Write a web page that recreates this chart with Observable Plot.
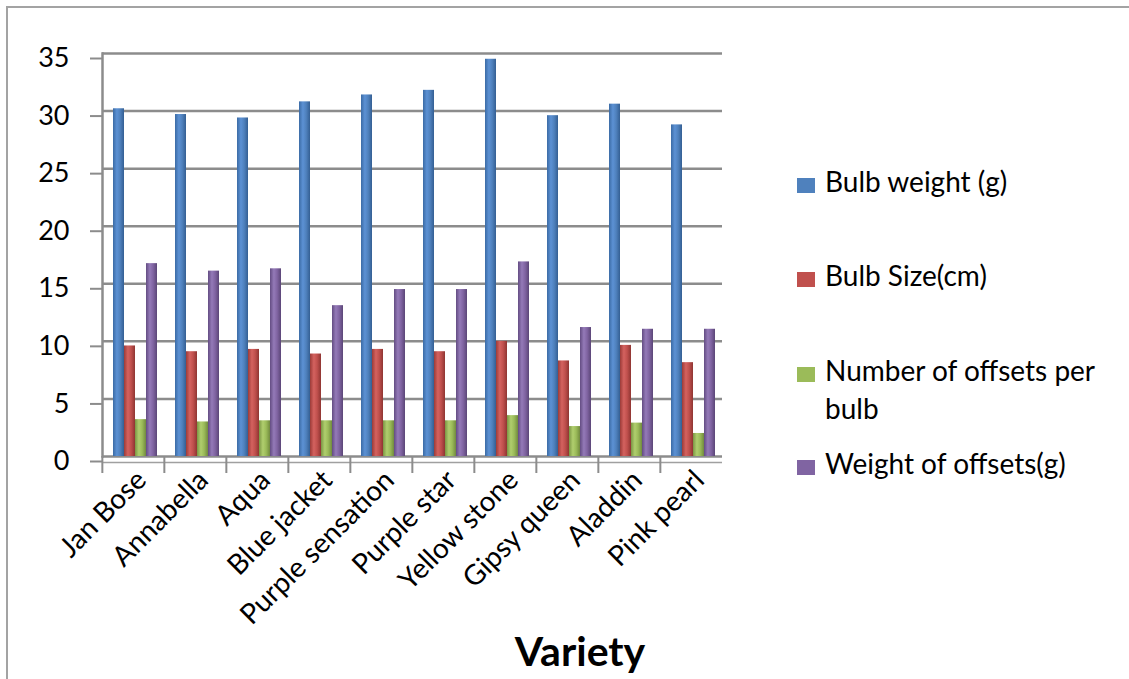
<!DOCTYPE html>
<html>
<head>
<meta charset="utf-8">
<script src="https://cdn.jsdelivr.net/npm/d3@7"></script>
<script src="https://cdn.jsdelivr.net/npm/@observablehq/plot@0.6"></script>
<style>
  body { margin: 0; background: #fff; }
  #wrap { position: relative; width: 1129px; height: 679px; overflow: hidden; font-family: Lato, "Open Sans", sans-serif; color: #000; }
  #border { position: absolute; left: 6px; top: 6px; right: -10px; bottom: -10px; border-top: 2px solid #a3a3a3; border-left: 2px solid #a3a3a3; }
  #chart { position: absolute; left: 0; top: 0; }
  .leg { position: absolute; left: 825px; font-size: 28px; line-height: 38px; white-space: nowrap; }
  .sw { position: absolute; left: 797px; width: 18px; height: 15px; }
  #xlabel { position: absolute; left: 480px; width: 200px; text-align: center; top: 626px; font-size: 41px; font-weight: bold; line-height: 1.2; }
</style>
</head>
<body>
<svg width="0" height="0" style="position:absolute">
  <defs>
    <linearGradient id="gBlue" x1="0" x2="1" y1="0" y2="0">
      <stop offset="0" stop-color="#3b6ba5"/><stop offset="0.35" stop-color="#5c91d4"/><stop offset="0.65" stop-color="#4f81bd"/><stop offset="1" stop-color="#345f93"/>
    </linearGradient>
    <linearGradient id="gRed" x1="0" x2="1" y1="0" y2="0">
      <stop offset="0" stop-color="#9c3b38"/><stop offset="0.35" stop-color="#d4625f"/><stop offset="0.65" stop-color="#c0504d"/><stop offset="1" stop-color="#8f3532"/>
    </linearGradient>
    <linearGradient id="gGreen" x1="0" x2="1" y1="0" y2="0">
      <stop offset="0" stop-color="#7a9644"/><stop offset="0.35" stop-color="#b0ce6e"/><stop offset="0.65" stop-color="#9bbb59"/><stop offset="1" stop-color="#718a3f"/>
    </linearGradient>
    <linearGradient id="gPurple" x1="0" x2="1" y1="0" y2="0">
      <stop offset="0" stop-color="#634c82"/><stop offset="0.35" stop-color="#947ab8"/><stop offset="0.65" stop-color="#8064a2"/><stop offset="1" stop-color="#5b4677"/>
    </linearGradient>
  </defs>
</svg>
<div id="wrap">
  <div id="border"></div>
  <div id="chart"></div>
  <div id="legend"></div>
  <div id="xlabel">Variety</div>
</div>
<script>
// ---- data ----
const varieties = ["Jan Bose", "Annabella", "Aqua", "Blue jacket", "Purple sensation", "Purple star", "Yellow stone", "Gipsy queen", "Aladdin", "Pink pearl"];
const seriesNames = ["Bulb weight (g)", "Bulb Size(cm)", "Number of offsets per bulb", "Weight of offsets(g)"];
const bulbWeight    = [30.2, 29.7, 29.4, 30.8, 31.4, 31.8, 34.5, 29.6, 30.6, 28.8];
const bulbSize      = [9.6, 9.1, 9.3, 8.9, 9.3, 9.1, 10.0, 8.3, 9.65, 8.15];
const offsetsNumber = [3.2, 3.0, 3.1, 3.1, 3.1, 3.1, 3.55, 2.6, 2.9, 2.0];
const offsetsWeight = [16.75, 16.1, 16.3, 13.1, 14.5, 14.5, 16.9, 11.2, 11.05, 11.05];
const yTicks = [0, 5, 10, 15, 20, 25, 30, 35];

const seriesValues = [bulbWeight, bulbSize, offsetsNumber, offsetsWeight];
const seriesFills = ["url(#gBlue)", "url(#gRed)", "url(#gGreen)", "url(#gPurple)"];
const legendColors = ["#4f81bd", "#c0504d", "#9bbb59", "#8064a2"];

const data = varieties.flatMap((v, i) => seriesNames.map((s, j) => ({variety: v, series: s, value: seriesValues[j][i]})));

const W = 1129, H = 679, ML = 100, MR = 406;
const facetW = (W - ML - MR) / varieties.length;
const grid = "#8c8c8c";

const chart = Plot.plot({
  width: W, height: H,
  marginLeft: ML, marginRight: MR, marginTop: 53, marginBottom: 223,
  style: {fontFamily: "Lato, 'Open Sans', sans-serif", fontSize: "26px", color: "#000", background: "transparent", overflow: "visible"},
  fx: {domain: varieties, padding: 0, label: null},
  x: {domain: seriesNames, paddingInner: 0.03, paddingOuter: 0.76, align: 0.6, axis: null},
  y: {domain: [0, 35], label: null},
  color: {domain: seriesNames, range: seriesFills},
  marks: [
    Plot.ruleY(yTicks, {stroke: grid, strokeWidth: 2.5}),
    Plot.ruleY([0], {stroke: "#a0a0a0", strokeWidth: 1.5, dy: 6}),
    Plot.frame({anchor: "left", facetAnchor: "left", stroke: grid, strokeWidth: 2.5}),
    Plot.axisY({ticks: yTicks, tickSize: 12, tickPadding: 21, dy: 5, label: null, stroke: grid, strokeWidth: 2, fill: "#000", fontSize: 27}),
    Plot.axisFx({anchor: "bottom", tickSize: 17, tickFormat: () => "", dx: -facetW / 2, stroke: grid, strokeWidth: 2, label: null}),
    Plot.axisFx({anchor: "bottom", tickSize: 0, tickPadding: 19, tickRotate: -45, dx: 8, label: null, fill: "#000", fontSize: 28}),
    Plot.barY(data, {fx: "variety", x: "series", y: "value", fill: "series"})
  ]
});
document.getElementById("chart").appendChild(chart);

// ---- legend (HTML) ----
const legendLines = [["Bulb weight (g)"], ["Bulb Size(cm)"], ["Number of offsets per", "bulb"], ["Weight of offsets(g)"]];
const baselines = [192.7, 286.7, 381.7, 475];
const legend = document.getElementById("legend");
legendLines.forEach((lines, i) => {
  const sw = document.createElement("div");
  sw.className = "sw";
  sw.style.background = legendColors[i];
  sw.style.top = (baselines[i] - 15) + "px";
  legend.appendChild(sw);
  const t = document.createElement("div");
  t.className = "leg";
  t.style.top = (baselines[i] - 31) + "px";
  t.innerHTML = lines.join("<br>");
  legend.appendChild(t);
});
</script>
</body>
</html>
